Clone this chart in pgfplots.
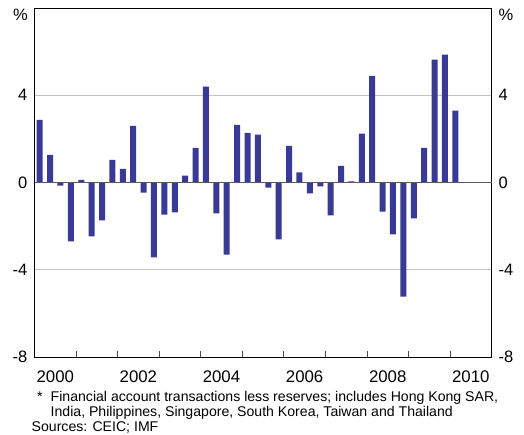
\documentclass[border=0pt]{standalone}
\usepackage{fontspec}
\setmainfont{Liberation Sans}
\usepackage{pgfplots}
\pgfplotsset{compat=1.18}
\definecolor{barblue}{RGB}{57,57,150}
\definecolor{zerogray}{RGB}{90,90,90}
\definecolor{gridgray}{RGB}{195,195,195}
\begin{document}
\begin{tikzpicture}[x=1pt,y=1pt]
\path[use as bounding box] (0,0) rectangle (524,-435);
\begin{axis}[
  at={(34.5pt,-357pt)}, anchor=south west,
  scale only axis, width=457.2pt, height=349pt,
  xmin=0, xmax=44, ymin=-8, ymax=8,
  axis line style={line width=0.9pt},
  clip=false,
  /pgf/number format/assume math mode=true,
  xtick={4,8,12,16,20,24,28,32,36,40},
  xticklabels={},
  xtick pos=bottom, xtick align=inside,
  major tick length=6pt,
  x tick style={black!70, line width=0.9pt},
  ytick={-4,4}, yticklabels={},
  y tick style={draw=none},
  ymajorgrids, y grid style={gridgray, line width=0.9pt},
]
\addplot[ybar, bar width=6pt, fill=barblue, draw=none] coordinates {
(0.5,2.87) (1.5,1.27) (2.5,-0.14) (3.5,-2.70)
(4.5,0.12) (5.5,-2.47) (6.5,-1.74) (7.5,1.04)
(8.5,0.63) (9.5,2.60) (10.5,-0.46) (11.5,-3.43)
(12.5,-1.47) (13.5,-1.37) (14.5,0.31) (15.5,1.59)
(16.5,4.39) (17.5,-1.42) (18.5,-3.31) (19.5,2.64)
(20.5,2.27) (21.5,2.20) (22.5,-0.23) (23.5,-2.61)
(24.5,1.68) (25.5,0.46) (26.5,-0.50) (27.5,-0.18)
(28.5,-1.51) (29.5,0.76) (30.5,0.05) (31.5,2.24)
(32.5,4.89) (33.5,-1.33) (34.5,-2.38) (35.5,-5.23)
(36.5,-1.65) (37.5,1.59) (38.5,5.63) (39.5,5.86)
(40.5,3.29)
};
\addplot[zerogray, line width=1.4pt] coordinates {(0,0) (44,0)};
\end{axis}
\begin{scope}[font=\fontsize{16.5}{19}\selectfont, inner sep=0pt]
\node[anchor=east] at (28,-15) {\%};
\node[anchor=east] at (27.5,-95.25) {4};
\node[anchor=east] at (27.5,-182.5) {0};
\node[anchor=east] at (27.5,-269.75) {-4};
\node[anchor=east] at (27.5,-357) {-8};
\node[anchor=west] at (498.5,-15) {\%};
\node[anchor=west] at (498.5,-95.25) {4};
\node[anchor=west] at (498.5,-182.5) {0};
\node[anchor=west] at (498.5,-269.75) {-4};
\node[anchor=west] at (498.5,-357) {-8};
\end{scope}
\begin{scope}[font=\fontsize{16.8}{19}\selectfont, inner sep=0pt]
\node[anchor=base] at (55.3,-382) {2000};
\node[anchor=base] at (138.4,-382) {2002};
\node[anchor=base] at (221.5,-382) {2004};
\node[anchor=base] at (304.6,-382) {2006};
\node[anchor=base] at (387.7,-382) {2008};
\node[anchor=base] at (470.8,-382) {2010};
\end{scope}
\begin{scope}[font=\fontsize{14.1}{16}\selectfont, inner sep=0pt]
\node[anchor=base west] at (37,-401.5) {*};
\node[anchor=base west] at (50.5,-401.5) {Financial account transactions less reserves; includes Hong Kong SAR,};
\node[anchor=base west] at (50.5,-416.5) {India, Philippines, Singapore, South Korea, Taiwan and Thailand};
\node[anchor=base west] at (31.5,-431.5) {Sources: CEIC; IMF};
\end{scope}
\end{tikzpicture}
\end{document}
